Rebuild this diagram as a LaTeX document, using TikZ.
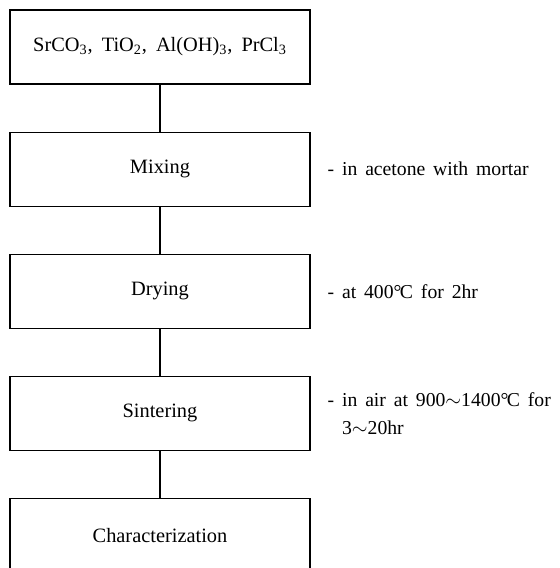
\documentclass[tikz,border=0pt]{standalone}
\usepackage{fontspec}
\setmainfont{Liberation Serif}
\newcommand{\degC}{\textdegree\kern-0.08em C}
\newcommand{\wave}{$\sim$}
\newcommand{\widegaps}{\spaceskip=0.45em plus 0.1em\relax}
\newcommand{\notegaps}{\spaceskip=0.4em plus 0.1em\relax}
\usetikzlibrary{positioning}

\begin{document}
\begin{tikzpicture}[
  stage/.style={draw,line width=0.8pt,minimum width=7.5cm,minimum height=1.85cm,
    inner sep=2pt,font=\fontsize{14.5}{17}\selectfont\widegaps},
  link/.style={line width=0.8pt},
  note/.style={font=\fontsize{14}{20}\selectfont\notegaps,align=left,inner sep=2pt}
]
  \useasboundingbox (0,0) rectangle (14,-14.2);
  % Process steps
  \node[stage] (raw) at (4,-1.175) {SrCO\textsubscript{3}, TiO\textsubscript{2}, Al(OH)\textsubscript{3}, PrCl\textsubscript{3}};
  \node[stage,below=1.175cm of raw] (mix) {Mixing};
  \node[stage,below=1.175cm of mix] (dry) {Drying};
  \node[stage,below=1.175cm of dry] (sinter) {Sintering};
  \node[stage,below=1.175cm of sinter] (charac) {Characterization};

  \draw[link] (raw) -- (mix);
  \draw[link] (mix) -- (dry);
  \draw[link] (dry) -- (sinter);
  \draw[link] (sinter) -- (charac);

  % Conditions
  \node[note,right=0.35cm of mix.east] (mixnote) {- in acetone with mortar};
  \node[note,right=0.35cm of dry.east] (drynote) {- at 400\degC{} for 2hr};
  \node[note,right=0.35cm of sinter.east] (sinternote)
    {- in air at 900\wave1400\degC{} for\\\hphantom{- }3\wave20hr};
\end{tikzpicture}
\end{document}
